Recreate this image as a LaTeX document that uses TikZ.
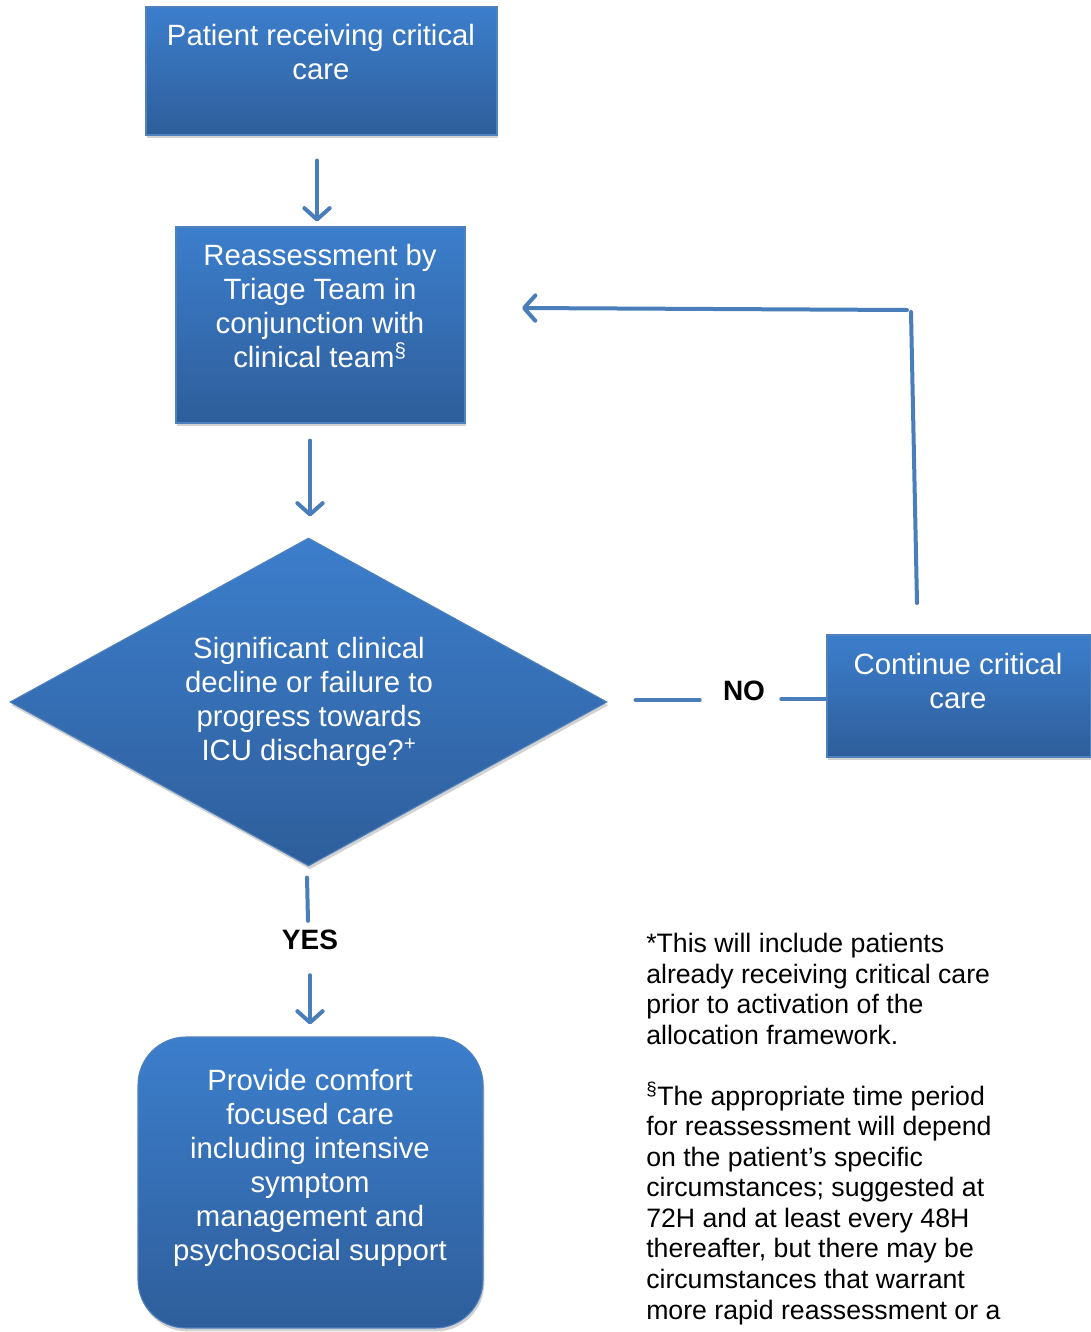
\documentclass[tikz,border=0pt]{standalone}
\usepackage{fontspec}
\setmainfont{Liberation Sans}
\usetikzlibrary{shapes.geometric,arrows.meta,calc,shadows}
\definecolor{btop}{RGB}{60,126,204}
\definecolor{bbot}{RGB}{46,94,155}
\definecolor{bedge}{RGB}{79,129,189}
\definecolor{arrc}{RGB}{74,126,187}
\begin{document}
\begin{tikzpicture}[x=0.75pt,y=-0.75pt,
  box/.style={draw=bedge, line width=0.8pt, top color=btop, bottom color=bbot, inner sep=0pt,
    drop shadow={shadow xshift=1pt, shadow yshift=-2.5pt, opacity=0.25, fill=black!70}},
  txt/.style={text=white, font=\fontsize{22}{25.5}\selectfont, align=center, inner sep=0pt},
  lbl/.style={text=black, font=\fontsize{21}{25}\selectfont\bfseries, inner sep=0pt},
  note/.style={text=black, font=\fontsize{20}{22.9}\selectfont, align=left, inner sep=0pt, anchor=north west},
  con/.style={draw=arrc, line width=3pt, line cap=round},
  flow/.style={con, -{Straight Barb[length=8.5pt,width=19pt,round]}}]
\useasboundingbox (0,0) rectangle (1090,1332);
\fill[white] (0,0) rectangle (1090,1332);

% boxes
\node[box, minimum width=263.25pt, minimum height=96pt] (b1) at (321.5,71) {};
\node[txt] (b1t) at (321,52) {Patient receiving critical\\care};

\node[box, minimum width=216.75pt, minimum height=147pt] (b2) at (320.5,325) {};
\node[txt] (b2t) at (320,306.5) {Reassessment by\\Triage Team in\\conjunction with\\clinical team\textsuperscript{\S}};

\node[box, shape=diamond, minimum width=447.75pt, minimum height=246pt] (dia) at (308.5,702) {};
\node[txt] (diat) at (309,702) {Significant clinical\\decline or failure to\\progress towards\\ICU discharge?\textsuperscript{+}};

\node[box, minimum width=198pt, minimum height=91.5pt] (cont) at (959,696) {};
\node[txt] (contt) at (958,681) {Continue critical\\care};

\node[box, rounded corners=36pt, minimum width=258.75pt, minimum height=218.25pt] (comf) at (310.5,1182.5) {};
\node[txt] (comft) at (310,1167.5) {Provide comfort\\focused care\\including intensive\\symptom\\management and\\psychosocial support};

% labels
\node[lbl] (no) at (744,691) {NO};
\node[lbl] (yes) at (310,940) {YES};

% connectors
\draw[flow] ($(b1.south)+(-4.5,25)$) -- ($(b2.north)+(-3.5,-5)$);
\draw[flow] ($(b2.south)+(-10.5,17)$) -- ($(dia.north)+(1.5,-21)$);
\draw[con] ($(dia.east)+(28,-2)$) -- ($(no.west)+(-23,9)$);
\draw[con] ($(no.east)+(16,8)$) -- ($(cont.west)+(0,3)$);
\draw[con] ($(dia.south)+(-1.5,11)$) -- ($(yes.north)+(-2,-9)$);
\draw[flow] ($(yes.south)+(0,25)$) -- ($(comf.north)+(-0.5,-12)$);

\coordinate (loopA) at (917,603);
\coordinate (loopB) at (911,312);
\coordinate (loopC) at (907,310);
\coordinate (loopD) at (522,308);
\draw[con] (loopA) -- (loopB);
\draw[flow] (loopC) -- (loopD);

% footnotes
\node[note] (n1) at (646,933) {*This will include patients\\already receiving critical care\\prior to activation of the\\allocation framework.\\[22.9pt]\textsuperscript{\S}The appropriate time period\\for reassessment will depend\\on the patient’s specific\\circumstances; suggested at\\72H and at least every 48H\\thereafter, but there may be\\circumstances that warrant\\more rapid reassessment or a};
\end{tikzpicture}
\end{document}
